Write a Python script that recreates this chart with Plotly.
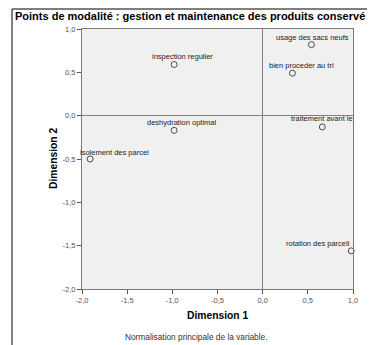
import plotly.graph_objects as go

# ---- data ----
labels = ["usage des sacs neufs", "bien proceder au tri", "inspection regulier",
          "deshydration optimal", "traitement avant le", "isolement des parcel",
          "rotation des parcell"]
dim1 = [0.54, 0.33, -0.98, -0.98, 0.66, -1.91, 0.98]
dim2 = [0.82, 0.49, 0.59, -0.17, -0.13, -0.50, -1.56]

x_tickvals = [-2.0, -1.5, -1.0, -0.5, 0.0, 0.5, 1.0]
x_ticktext = ["-2,0", "-1,5", "-1,0", "-0,5", "0,0", "0,5", "1,0"]
y_tickvals = [-2.0, -1.5, -1.0, -0.5, 0.0, 0.5, 1.0]
y_ticktext = ["-2,0", "-1,5", "-1,0", "-0,5", "0,0", "0,5", "1,0"]

title_text = "Points de modalité : gestion et maintenance des produits conservé"
xtitle = "Dimension 1"
ytitle = "Dimension 2"
footnote = "Normalisation principale de la variable."

# ---- label placement styles (pixel offsets relative to each point) ----
label_anchor = ["center", "center", "center", "center", "left", "left", "right"]
label_xshift = [1, 9, 8, 8, -33, -12, 1]
label_yshift = [7, 8, 8, 8, 8, 7, 7]

FONT = "Liberation Sans, Arial, sans-serif"
# page has an 8px body margin: the figure is drawn at (8, 8) in the window
OX, OY = 8, 8
WIN_W, WIN_H = 375, 345
W, H = WIN_W - OX, WIN_H - OY
# plot area in window pixels: x 82..353, y 29..289
L, R, T, B = 82 - OX, WIN_W - 353, 29 - OY, WIN_H - 289
pw, ph = W - L - R, H - T - B

def px_x(p):  # window pixel -> paper x
    return (p - OX - L) / pw

def px_y(p):  # window pixel -> paper y
    return (H - B - (p - OY)) / ph

fig = go.Figure()
fig.add_trace(go.Scatter(
    x=dim1, y=dim2, mode="markers",
    marker=dict(symbol="circle-open", size=6, color="#4a4a4a", line=dict(width=1)),
    hoverinfo="text", text=labels, showlegend=False, cliponaxis=False,
))

annotations = []
for xv, yv, lab, anc, xs, ys in zip(dim1, dim2, labels, label_anchor, label_xshift, label_yshift):
    annotations.append(dict(
        x=xv, y=yv, xref="x", yref="y", text=lab, showarrow=False,
        xanchor=anc, yanchor="middle", xshift=xs, yshift=ys,
        font=dict(family=FONT, size=7.5, color="#222222"),
    ))

annotations.append(dict(
    x=px_x(196), y=px_y(337), xref="paper", yref="paper", text=footnote,
    showarrow=False, xanchor="center", yanchor="middle",
    font=dict(family=FONT, size=8.3, color="#333333"),
))
annotations.append(dict(
    x=px_x(13), y=px_y(16), xref="paper", yref="paper", text="<b>" + title_text + "</b>",
    showarrow=False, xanchor="left", yanchor="middle",
    font=dict(family=FONT, size=11.0, color="#000000"),
))
annotations.append(dict(
    x=0.5, y=px_y(315), xref="paper", yref="paper", text="<b>" + xtitle + "</b>",
    showarrow=False, xanchor="center", yanchor="middle",
    font=dict(family=FONT, size=10.3, color="#000000"),
))
annotations.append(dict(
    x=px_x(53), y=0.5, xref="paper", yref="paper", text="<b>" + ytitle + "</b>",
    showarrow=False, xanchor="center", yanchor="middle", textangle=-90,
    font=dict(family=FONT, size=10.3, color="#000000"),
))

shapes = [
    dict(type="line", xref="paper", yref="paper", x0=px_x(12), x1=px_x(12),
         y0=px_y(9), y1=px_y(WIN_H + 2), line=dict(color="#000000", width=1)),
    dict(type="line", xref="paper", yref="paper", x0=px_x(12), x1=px_x(WIN_W + 2),
         y0=px_y(9), y1=px_y(9), line=dict(color="#000000", width=1)),
]

axis_common = dict(
    showgrid=False, zeroline=True, zerolinecolor="#808080", zerolinewidth=1,
    showline=True, linecolor="#7a7a7a", linewidth=1, mirror=True,
    ticks="outside", ticklen=4, tickcolor="#555555", tickwidth=1,
    tickfont=dict(family=FONT, size=7.5, color="#555555"),
    automargin=False, range=[-2.0, 1.0],
)

fig.update_layout(
    width=W, height=H,
    margin=dict(l=L, r=R, t=T, b=B, pad=0),
    paper_bgcolor="#ffffff", plot_bgcolor="#f0f0f0",
    xaxis=dict(tickvals=x_tickvals, ticktext=x_ticktext, **axis_common),
    yaxis=dict(tickvals=y_tickvals, ticktext=y_ticktext, **axis_common),
    annotations=annotations, shapes=shapes,
)

fig.write_html("out.html")
